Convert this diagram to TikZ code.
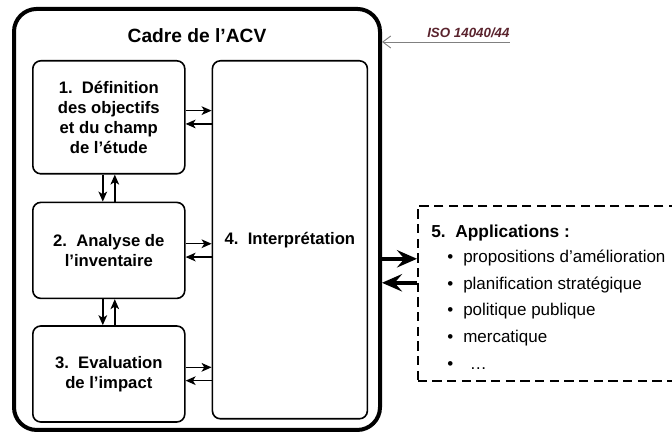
\documentclass[tikz,border=0pt]{standalone}
\usepackage{fontspec}
\setmainfont{Liberation Sans}
\usetikzlibrary{positioning}
\usetikzlibrary{arrows.meta}
\definecolor{isored}{RGB}{90,35,45}
\tikzset{stage/.style={rectangle, draw, line width=1.2pt, rounded corners=6pt, minimum width=114pt, align=center, font=\bfseries\fontsize{12.5}{15}\selectfont}}

\begin{document}
\begin{tikzpicture}[
    x=1pt, y=1pt,
    node distance=20pt,
    link/.style={-{Stealth[length=7.5pt, width=6.5pt, inset=2pt]}, line width=1.1pt},
    bigarrow/.style={-{Stealth[length=15pt, width=13pt, inset=5.5pt]}, line width=3pt},
    isoline/.style={-{Straight Barb[length=6pt, width=9pt]}, gray, line width=0.7pt}
]
\useasboundingbox (0,0) rectangle (504,-325.5);
\clip (0,0) rectangle (504,-325.5);

% Nodes
\node[draw, line width=3pt, rounded corners=17pt, minimum width=274.5pt, minimum height=315.75pt] (frame) at (147.75,-164.6) {};
\node[font=\bfseries\fontsize{14.4}{17}\selectfont, inner sep=0pt, below=15.75pt of frame.north] (title) {Cadre de l’ACV};
\node[stage, minimum height=84.75pt, anchor=north west] (define) at (24,-45) {1.\ \ Définition\\des objectifs\\et du champ\\de l’étude};
\node[stage, minimum height=72pt] (inventory) [below=20.25pt of define] {2.\ \ Analyse de\\l’inventaire};
\node[stage, minimum height=72pt] (impact) [below=19.5pt of inventory] {3.\ \ Evaluation\\de l’impact};
\node[stage, minimum width=116.25pt, minimum height=268.5pt] (interp) [below right=0pt and 19.5pt of define.north east] {4.\ \ Interprétation};
\node[draw, line width=1.2pt, dash pattern=on 7pt off 4pt, minimum width=230pt, minimum height=131.25pt, anchor=north west] (apps) at (312.75,-153.75) {};
\node[align=left, inner sep=0pt, font=\fontsize{12.75}{20}\selectfont, below right=15pt and 10.5pt of apps.north west] (applist) {{\bfseries\fontsize{13}{20}\selectfont 5.\ \ Applications :}\\[-1.5pt]
\hspace*{12pt}\makebox[12pt][l]{\textbullet}propositions d’amélioration\\
\hspace*{12pt}\makebox[12pt][l]{\textbullet}planification stratégique\\
\hspace*{12pt}\makebox[12pt][l]{\textbullet}politique publique\\
\hspace*{12pt}\makebox[12pt][l]{\textbullet}mercatique\\
\hspace*{12pt}\makebox[12pt][l]{\textbullet}\hspace{5pt}…};

% Paths
\draw[link] ([yshift=5pt]define.east) -- ([yshift=5pt]define.east -| interp.west);
\draw[link] ([yshift=-5pt]define.east -| interp.west) -- ([yshift=-5pt]define.east);
\draw[link] ([yshift=5pt]inventory.east) -- ([yshift=5pt]inventory.east -| interp.west);
\draw[link] ([yshift=-5pt]inventory.east -| interp.west) -- ([yshift=-5pt]inventory.east);
\draw[link] ([yshift=5pt]impact.east) -- ([yshift=5pt]impact.east -| interp.west);
\draw[link] ([yshift=-5pt]impact.east -| interp.west) -- ([yshift=-5pt]impact.east);
\draw[link] ([xshift=-4.5pt]define.south) -- ([xshift=-4.5pt]define.south |- inventory.north);
\draw[link] ([xshift=4.5pt]define.south |- inventory.north) -- ([xshift=4.5pt]define.south);
\draw[link] ([xshift=-4.5pt]inventory.south) -- ([xshift=-4.5pt]inventory.south |- impact.north);
\draw[link] ([xshift=4.5pt]inventory.south |- impact.north) -- ([xshift=4.5pt]inventory.south);
\draw[bigarrow] ([yshift=-29.5pt]frame.east) -- ([yshift=-29.5pt]frame.east -| apps.west);
\draw[bigarrow] ([yshift=-47.5pt]frame.east -| apps.west) -- ([yshift=-47.5pt]frame.east);

% Annotations
\node[font=\bfseries\itshape\fontsize{10}{12}\selectfont, text=isored, inner sep=0pt, anchor=base west] (iso) at (320.25,-28.5) {ISO 14040/44};
\draw[isoline] ([yshift=-3pt]iso.base east) -- ([yshift=-3pt]iso.base east -| frame.east);

\end{tikzpicture}
\end{document}
